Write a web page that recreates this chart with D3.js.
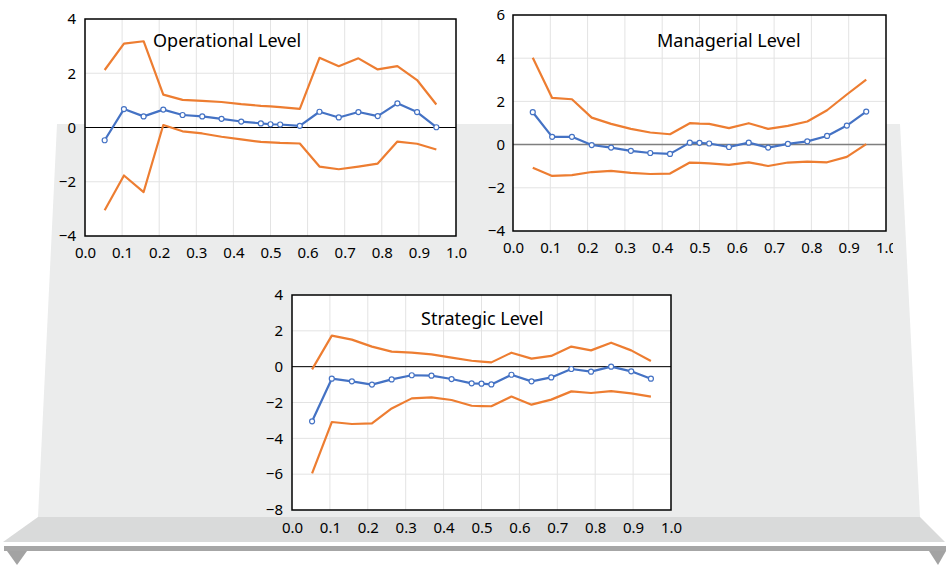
<!DOCTYPE html>
<html>
<head>
<meta charset="utf-8">
<script src="https://cdn.jsdelivr.net/npm/d3@7"></script>
<style>
  body { margin: 0; background: #fff; }
  svg { display: block; }
  text { font-family: "Noto Sans", sans-serif; fill: #000; }
</style>
</head>
<body>
<svg id="chart" width="947" height="565"></svg>
<script>
// x positions shared by all three panels
var xs = [0.053, 0.105, 0.158, 0.211, 0.263, 0.316, 0.368, 0.421, 0.474, 0.5,
          0.526, 0.579, 0.632, 0.684, 0.737, 0.789, 0.842, 0.895, 0.947];
var xTicks = [0, 0.1, 0.2, 0.3, 0.4, 0.5, 0.6, 0.7, 0.8, 0.9, 1.0];

// Operational level
var opMean  = [-0.47, 0.68, 0.41, 0.66, 0.46, 0.41, 0.32, 0.22, 0.15, 0.12,
               0.11, 0.06, 0.58, 0.37, 0.57, 0.42, 0.89, 0.57, 0.01];
var opUpper = [2.12, 3.09, 3.18, 1.21, 1.02, 0.98, 0.94, 0.86, 0.80, 0.78,
               0.75, 0.69, 2.57, 2.26, 2.55, 2.14, 2.26, 1.75, 0.85];
var opLower = [-3.05, -1.77, -2.38, 0.09, -0.14, -0.22, -0.34, -0.44, -0.53, -0.55,
               -0.57, -0.59, -1.44, -1.54, -1.44, -1.33, -0.52, -0.60, -0.81];
var opTicks = [-4, -2, 0, 2, 4];

// Managerial level
var mgMean  = [1.50, 0.36, 0.36, -0.02, -0.14, -0.29, -0.39, -0.43, 0.09, 0.08,
               0.05, -0.11, 0.09, -0.14, 0.03, 0.15, 0.40, 0.88, 1.53];
var mgUpper = [4.02, 2.16, 2.10, 1.25, 0.96, 0.73, 0.56, 0.48, 0.99, 0.97,
               0.96, 0.76, 0.99, 0.73, 0.87, 1.07, 1.59, 2.32, 3.01];
var mgLower = [-1.07, -1.45, -1.41, -1.27, -1.22, -1.31, -1.36, -1.34, -0.83, -0.85,
               -0.87, -0.94, -0.82, -0.99, -0.83, -0.79, -0.82, -0.57, 0.02];
var mgTicks = [-4, -2, 0, 2, 4, 6];

// Strategic level
var stMean  = [-3.05, -0.67, -0.82, -1.00, -0.71, -0.48, -0.50, -0.69, -0.93, -0.95,
               -0.99, -0.45, -0.82, -0.60, -0.13, -0.28, 0.00, -0.26, -0.67];
var stUpper = [-0.15, 1.73, 1.51, 1.12, 0.84, 0.78, 0.69, 0.50, 0.33, 0.28,
               0.24, 0.78, 0.45, 0.60, 1.12, 0.91, 1.34, 0.91, 0.32];
var stLower = [-5.95, -3.09, -3.20, -3.16, -2.33, -1.77, -1.71, -1.86, -2.18, -2.20,
               -2.21, -1.67, -2.12, -1.84, -1.38, -1.47, -1.36, -1.49, -1.67];
var stTicks = [-8, -6, -4, -2, 0, 2, 4];

var svg = d3.select('#chart');
var blue = '#4472c4', orange = '#ed7d31';

// backdrop: grey stage with platform and rail
var bg = svg.append('g');
bg.append('path').attr('d', 'M57,124 L900,124 L920,517 L38,517 Z').attr('fill', '#ebecec');
bg.append('path').attr('d', 'M38,517 L920,517 L945,542 L3,542 Z').attr('fill', '#d9dada');
bg.append('rect').attr('x', 4).attr('y', 546).attr('width', 942).attr('height', 5).attr('fill', '#a6a6a6');
bg.append('path').attr('d', 'M7,551 L27,551 L17,565 Z').attr('fill', '#a3a3a3');
bg.append('path').attr('d', 'M929,551 L946,551 L938,565 Z').attr('fill', '#a3a3a3');

function drawPanel(opt) {
  var x = d3.scaleLinear().domain([0, 1]).range([opt.left, opt.right]);
  var y = d3.scaleLinear().domain(d3.extent(opt.yTicks)).range([opt.bottom, opt.top]);
  var g = svg.append('g');

  g.append('rect')
    .attr('x', opt.left).attr('y', opt.top)
    .attr('width', opt.right - opt.left).attr('height', opt.bottom - opt.top)
    .attr('fill', '#fff');

  // grid
  g.selectAll('.vgrid').data(xTicks.slice(1, -1)).enter().append('line')
    .attr('x1', function(d){ return x(d); }).attr('x2', function(d){ return x(d); })
    .attr('y1', opt.top).attr('y2', opt.bottom)
    .attr('stroke', '#e3e3e3').attr('stroke-width', 1);
  g.selectAll('.hgrid').data(opt.yTicks.slice(1, -1)).enter().append('line')
    .attr('y1', function(d){ return y(d); }).attr('y2', function(d){ return y(d); })
    .attr('x1', opt.left).attr('x2', opt.right)
    .attr('stroke', '#e3e3e3').attr('stroke-width', 1);

  // zero line
  g.append('line')
    .attr('x1', opt.left).attr('x2', opt.right)
    .attr('y1', y(0)).attr('y2', y(0))
    .attr('stroke', opt.zeroColor).attr('stroke-width', opt.zeroWidth);

  var line = d3.line()
    .x(function(d){ return x(d[0]); })
    .y(function(d){ return y(d[1]); });

  [opt.upper, opt.lower].forEach(function(s) {
    g.append('path')
      .datum(d3.zip(xs, s))
      .attr('d', line)
      .attr('fill', 'none').attr('stroke', orange).attr('stroke-width', 2.2)
      .attr('stroke-linejoin', 'round');
  });

  var meanData = d3.zip(xs, opt.mean);
  g.append('path')
    .datum(meanData)
    .attr('d', line)
    .attr('fill', 'none').attr('stroke', blue).attr('stroke-width', 2.2)
    .attr('stroke-linejoin', 'round');
  g.selectAll('.dot').data(meanData).enter().append('circle')
    .attr('cx', function(d){ return x(d[0]); })
    .attr('cy', function(d){ return y(d[1]); })
    .attr('r', 2.5)
    .attr('fill', '#fff').attr('stroke', blue).attr('stroke-width', 1.2);

  // frame
  g.append('rect')
    .attr('x', opt.left).attr('y', opt.top)
    .attr('width', opt.right - opt.left).attr('height', opt.bottom - opt.top)
    .attr('fill', 'none').attr('stroke', '#000').attr('stroke-width', 1.5);

  // axes
  var xAxis = g.append('g')
    .attr('transform', 'translate(0,' + opt.bottom + ')')
    .call(d3.axisBottom(x).tickValues(xTicks).tickSize(0).tickPadding(opt.xPad)
      .tickFormat(d3.format('.1f')));
  var yAxis = g.append('g')
    .attr('transform', 'translate(' + opt.left + ',0)')
    .call(d3.axisLeft(y).tickValues(opt.yTicks).tickSize(0).tickPadding(opt.yPad)
      .tickFormat(d3.format('d')));
  [xAxis, yAxis].forEach(function(a) {
    a.select('.domain').remove();
    a.attr('font-size', 15).attr('font-family', '"Noto Sans", sans-serif');
    a.selectAll('text').attr('fill', '#000');
  });
  if (opt.clipRight) {
    svg.append('clipPath').attr('id', 'clip-' + opt.id)
      .append('rect').attr('x', 0).attr('y', 0).attr('width', opt.clipRight).attr('height', 565);
    xAxis.attr('clip-path', 'url(#clip-' + opt.id + ')');
  }

  g.append('text')
    .attr('x', opt.titleX).attr('y', opt.titleY)
    .attr('font-size', 18)
    .text(opt.title);
}

drawPanel({
  id: 'op', title: 'Operational Level', titleX: 153, titleY: 47,
  left: 85, right: 456, top: 19, bottom: 236,
  yTicks: opTicks, mean: opMean, upper: opUpper, lower: opLower,
  zeroColor: '#000', zeroWidth: 1, xPad: 11, yPad: 9
});

drawPanel({
  id: 'mg', title: 'Managerial Level', titleX: 657, titleY: 47,
  left: 513, right: 886, top: 15, bottom: 231,
  yTicks: mgTicks, mean: mgMean, upper: mgUpper, lower: mgLower,
  zeroColor: '#7f7f7f', zeroWidth: 1.5, xPad: 11, yPad: 8, clipRight: 893
});

drawPanel({
  id: 'st', title: 'Strategic Level', titleX: 421, titleY: 325,
  left: 292, right: 671, top: 295, bottom: 510,
  yTicks: stTicks, mean: stMean, upper: stUpper, lower: stLower,
  zeroColor: '#000', zeroWidth: 1, xPad: 12, yPad: 9
});
</script>
</body>
</html>
